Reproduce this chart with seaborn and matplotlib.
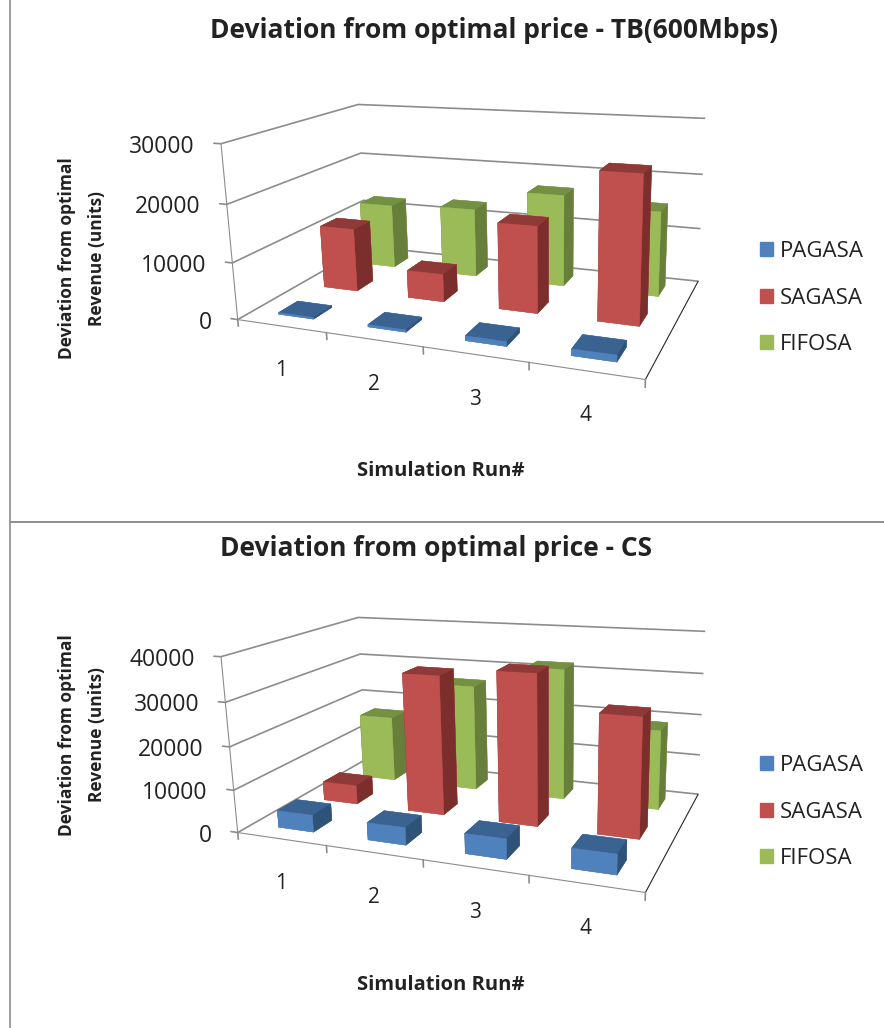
import matplotlib
matplotlib.use('Agg')
import matplotlib.pyplot as plt
from matplotlib.patches import Patch, Rectangle
from mpl_toolkits.mplot3d import proj3d
import numpy as np
import seaborn as sns

runs = ['1', '2', '3', '4']
series = ['PAGASA', 'SAGASA', 'FIFOSA']
colors = ['#4F81BD', '#C0504D', '#9BBB59']
top_colors = ['#3A6391', '#8F3A38', '#749043']
side_colors = ['#2F5279', '#7C2E2C', '#677F3A']

tb_pagasa = [300, 400, 800, 1100]
tb_sagasa = [11600, 5000, 15200, 25200]
tb_fifosa = [12300, 12900, 16900, 15300]

cs_pagasa = [4000, 4000, 4500, 4400]
cs_sagasa = [4600, 33100, 35000, 27200]
cs_fifosa = [16600, 26300, 32000, 19000]

sns.set_style('white')
plt.rcParams['font.family'] = ['Open Sans', 'DejaVu Sans']
text_col = '#222222'
line_col = '#8c8c8c'


def label_3d(ax, x, y, z, s, dx, dy, **kwargs):
    # project the 3d point and put the text at a pixel offset from it
    x2, y2, _ = proj3d.proj_transform(x, y, z, ax.get_proj())
    ax.annotate(s, xy=(x2, y2), xytext=(dx * 0.72, dy * 0.72), textcoords='offset points',
                color=text_col, va='center', annotation_clip=False, **kwargs)


def draw_chart(y0, data, zmax, zstep):
    ax = fig.add_axes([0.1274, y0, 0.8, 0.6878], projection='3d', computed_zorder=False)
    ax.patch.set_alpha(0)
    ax.set_proj_type('persp', focal_length=0.2421)
    ax.view_init(elev=15.16, azim=-67.26, roll=1.28)
    ax.set_box_aspect((1.5591, 1.0, 0.6773), zoom=0.7002)
    ax.set_xlim(0, 4)
    ax.set_ylim(0, 3)
    ax.set_zlim(0, zmax)
    for j in [2, 1, 0]:
        faces = [colors[j], top_colors[j], colors[j], colors[j], side_colors[j], side_colors[j]]
        for i in range(4):
            ax.bar3d(i + 0.3, j + 0.3, 0, 0.4, 0.4, data[j][i], color=faces, shade=False,
                     edgecolor=faces, linewidth=0.3)
    ax.set_xticks([])
    ax.set_yticks([])
    zticks = np.arange(0, zmax + 1, zstep)
    ax.set_zticks(zticks)
    ax.set_zticklabels([])
    ax.zaxis.set_ticks_position('lower')
    ax.zaxis._axinfo['tick'].update(inward_factor=0, outward_factor=0)
    for a in [ax.xaxis, ax.yaxis, ax.zaxis]:
        a.set_pane_color((1, 1, 1, 0))
        a.pane.set_edgecolor(line_col)
        a._axinfo['grid'].update(color=line_col, linewidth=1.2, linestyle='-')
    ax.xaxis.line.set_color(line_col)
    ax.zaxis.line.set_color(line_col)
    ax.grid(True)

    # tick marks and labels placed by hand, excel style
    for z in zticks:
        ax.plot([0, -0.08], [0, 0], [z, z], color=line_col, lw=1.2)
        label_3d(ax, 0, 0, z, str(z), -26, -3, fontsize=16.5, ha='right')
    for i in range(5):
        ax.plot([i, i], [0, 0], [0, -0.04 * zmax], color=line_col, lw=1.2)
    for i, r in enumerate(runs):
        label_3d(ax, i + 0.5, 0, 0, r, 0, -45, fontsize=15, ha='center')
    return ax


fig = plt.figure(figsize=(8.84, 10.28), dpi=100)
fig.add_artist(Rectangle((10 / 884, 506 / 1028), 880 / 884, 530 / 1028, transform=fig.transFigure, fill=False, ec=line_col, lw=1.2))
fig.add_artist(Rectangle((10 / 884, -5 / 1028), 880 / 884, 511 / 1028, transform=fig.transFigure, fill=False, ec=line_col, lw=1.2))

draw_chart(0.4356, [tb_pagasa, tb_sagasa, tb_fifosa], 30000, 10000)
draw_chart(-0.0634, [cs_pagasa, cs_sagasa, cs_fifosa], 40000, 10000)

fig.text(494 / 884, 1 - 30 / 1028, 'Deviation from optimal price - TB(600Mbps)', fontsize=19, fontweight='bold', ha='center', va='center', color=text_col)
fig.text(436 / 884, 1 - 549 / 1028, 'Deviation from optimal price - CS', fontsize=19, fontweight='bold', ha='center', va='center', color=text_col)
for yc, yl in [(471, 258), (985, 735)]:
    fig.text(441 / 884, 1 - yc / 1028, 'Simulation Run#', fontsize=14.5, fontweight='bold', ha='center', va='center', color=text_col)
    fig.text(82 / 884, 1 - yl / 1028, 'Deviation from optimal\nRevenue (units)', fontsize=12.5, fontweight='bold',
             rotation=90, ha='center', va='center', color=text_col, linespacing=1.9)

for yy in [298, 812]:
    fig.legend(handles=[Patch(color=c, label=s) for c, s in zip(colors, series)],
               loc='center left', bbox_to_anchor=(760 / 884, 1 - yy / 1028), frameon=False, fontsize=16,
               handlelength=0.6, handleheight=0.6, labelspacing=1.15, handletextpad=0.3,
               borderaxespad=0, borderpad=0, labelcolor=text_col)

fig.savefig('out.png', dpi=100)
